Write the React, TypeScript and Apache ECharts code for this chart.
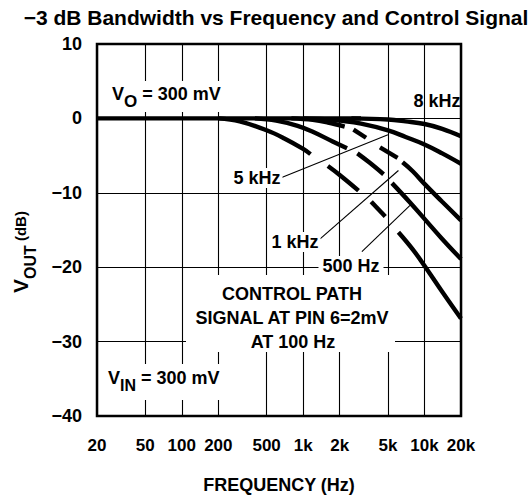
import React, { useEffect, useRef } from 'react';
import * as echarts from 'echarts';

const TITLE = '−3 dB Bandwidth vs Frequency and Control Signal';
const freqTicks = [20, 50, 100, 200, 500, 1000, 2000, 5000, 10000, 20000];
const freqTickLabels = ['20', '50', '100', '200', '500', '1k', '2k', '5k', '10k', '20k'];
const dbMin = -40;
const dbMax = 10;
const dbStep = 10;

// Common flat 0 dB part
const flatPart = [[20, 0], [1000, 0], [3000, 0]];
// Curves: each is a list of drawn segments (solid pieces, gaps give the dashed look)
const curve8kHz = [
  [[2500, 0], [5000, -0.15], [7000, -0.4], [10000, -0.75], [14000, -1.4], [20000, -2.4]],
];
const curve5kHz = [
  [[1000, 0], [1500, -0.1], [2000, -0.3], [3000, -0.7], [5000, -1.6], [7000, -2.5], [10000, -3.5], [14000, -4.7], [20000, -6.1]],
];
const curve1kHz = [
  [[800, 0], [1200, -0.2], [1600, -0.55], [2200, -1.1]],
  [[2600, -1.5], [3300, -2.6]],
  [[4300, -3.9], [6000, -5.3]],
  [[6600, -5.9], [8000, -7.1], [10000, -8.8], [14000, -11.2], [20000, -13.7]],
];
const curve500Hz = [
  [[400, 0], [600, -0.3], [900, -1.0], [1200, -1.8], [1750, -3.1], [2300, -4.0]],
  [[2800, -4.7], [3500, -5.9], [4600, -7.5]],
  [[5400, -8.7], [7600, -11.3], [10000, -13.5], [14000, -16.2], [20000, -18.9]],
];
const curveLowest = [
  [[200, 0], [300, -0.4], [500, -1.6], [700, -2.7], [1000, -4.1], [1150, -4.8]],
  [[1600, -6.4], [2000, -7.6], [2860, -9.7]],
  [[3640, -11.2], [4750, -13.2]],
  [[6100, -15.3], [8000, -17.6], [10000, -19.8], [14000, -23.3], [20000, -26.9]],
];

// Annotation arrows (from label to curve), in data coordinates
const arrow5kHz = [[650, -8.0], [5000, -2.2]];
const arrow1kHz = [[1380, -16.2], [6100, -7.0]];
const arrow500Hz = [[3050, -17.9], [7600, -11.7]];

const FONT = "'Liberation Sans Narrow', 'Arial Narrow', 'Liberation Sans', Arial, sans-serif";
const TITLE_FONT = "'Liberation Sans', Arial, Helvetica, sans-serif";

export default function App() {
  const ref = useRef<HTMLDivElement>(null);
  useEffect(() => {
    if (!ref.current) return;
    const chart = echarts.init(ref.current, undefined, { renderer: 'svg' });
    const allCurves = [[flatPart], curve8kHz, curve5kHz, curve1kHz, curve500Hz, curveLowest];
    const series: any[] = [];
    allCurves.forEach((curve, ci) => {
      curve.forEach((seg, si) => {
        series.push({
          type: 'line',
          name: `c${ci}_${si}`,
          data: seg,
          smooth: 0.4,
          showSymbol: false,
          symbol: 'none',
          silent: true,
          z: 3,
          lineStyle: { color: '#000', width: 4.4, cap: 'butt' },
        });
      });
    });
    const arrows = [arrow5kHz, arrow1kHz, arrow500Hz];
    series.push({
      type: 'line',
      name: 'arrows',
      data: [],
      silent: true,
      z: 4,
      markLine: {
        silent: true,
        symbol: ['none', 'arrow'],
        symbolSize: [0, 11],
        label: { show: false },
        lineStyle: { color: '#000', width: 1.1, type: 'solid' },
        emphasis: { disabled: true },
        data: arrows.map((a) => [{ coord: a[0] }, { coord: a[1] }]),
      },
    });

    const labelStyle = { fontFamily: FONT, fontWeight: 'bold', fill: '#000' };
    const option: any = {
      animation: false,
      backgroundColor: '#fff',
      title: {
        text: TITLE,
        left: 271,
        textAlign: 'center',
        top: 2,
        textStyle: { fontFamily: TITLE_FONT, fontWeight: 'bold', fontSize: 21, color: '#000' },
      },
      grid: {
        left: 97, right: 71, top: 44, bottom: 79,
        outerBoundsMode: 'none',
        containLabel: false,
        show: true, borderColor: '#000', borderWidth: 2.5, backgroundColor: 'transparent',
      },
      xAxis: {
        type: 'log',
        logBase: 10,
        min: 20,
        max: 20000,
        name: 'FREQUENCY (Hz)',
        nameLocation: 'middle',
        nameGap: 60,
        nameTextStyle: { fontFamily: FONT, fontWeight: 'bold', fontSize: 18, color: '#000', verticalAlign: 'top' },
        axisLine: { show: false },
        axisTick: { show: false, customValues: freqTicks },
        axisLabel: {
          customValues: freqTicks,
          margin: 21,
          fontFamily: FONT, fontWeight: 'bold', fontSize: 17, color: '#000',
          formatter: (v: number) => {
            let best = 0;
            freqTicks.forEach((t, i) => { if (Math.abs(Math.log(t / v)) < Math.abs(Math.log(freqTicks[best] / v))) best = i; });
            return freqTickLabels[best];
          },
        },
        splitLine: { show: true, lineStyle: { color: '#000', width: 1.1 } },
      },
      yAxis: {
        type: 'value',
        min: dbMin,
        max: dbMax,
        interval: dbStep,
        axisLine: { show: false },
        axisTick: { show: false },
        axisLabel: {
          margin: 15,
          fontFamily: FONT, fontWeight: 'bold', fontSize: 18, color: '#000',
          formatter: (v: number) => (v < 0 ? '−' + Math.abs(v) : String(v)),
        },
        splitLine: { show: true, lineStyle: { color: '#000', width: 1.1 } },
      },
      graphic: [
        { type: 'rect', z: 1, silent: true, shape: { x: 99, y: 81, width: 136, height: 31 }, style: { fill: '#fff' } },
        { type: 'rect', z: 1, silent: true, shape: { x: 99, y: 364, width: 136, height: 36 }, style: { fill: '#fff' } },
        { type: 'rect', z: 1, silent: true, shape: { x: 186, y: 275, width: 209, height: 77 }, style: { fill: '#fff' } },
        {
          type: 'text', z: 10, silent: true, x: 24, y: 252, rotation: Math.PI / 2,
          style: {
            text: '{v|V}{s|OUT}{d| (dB)}', align: 'center', verticalAlign: 'middle',
            rich: {
              v: { ...labelStyle, fontSize: 21, verticalAlign: 'top', lineHeight: 28 },
              s: { ...labelStyle, fontSize: 16, verticalAlign: 'bottom', lineHeight: 28 },
              d: { ...labelStyle, fontSize: 15, verticalAlign: 'top', lineHeight: 28, padding: [3, 0, 0, 0] },
            },
          },
        },
        {
          type: 'text', z: 10, silent: true, x: 112, y: 97,
          style: {
            text: '{v|V}{s|O}{v| = 300 mV}', verticalAlign: 'middle', align: 'left',
            rich: {
              v: { ...labelStyle, fontSize: 18, verticalAlign: 'top', lineHeight: 25 },
              s: { ...labelStyle, fontSize: 17, verticalAlign: 'bottom', lineHeight: 25 },
            },
          },
        },
        {
          type: 'text', z: 10, silent: true, x: 108, y: 381,
          style: {
            text: '{v|V}{s|IN}{v| = 300 mV}', verticalAlign: 'middle', align: 'left',
            rich: {
              v: { ...labelStyle, fontSize: 18, verticalAlign: 'top', lineHeight: 25 },
              s: { ...labelStyle, fontSize: 16, verticalAlign: 'bottom', lineHeight: 25 },
            },
          },
        },
        { type: 'text', z: 10, silent: true, x: 437, y: 101, style: { ...labelStyle, text: '8 kHz', fontSize: 18, align: 'center', verticalAlign: 'middle' } },
        { type: 'text', z: 10, silent: true, x: 257, y: 178, style: { ...labelStyle, text: '5 kHz', fontSize: 18, align: 'center', verticalAlign: 'middle', backgroundColor: '#fff', padding: [1, 2] } },
        { type: 'text', z: 10, silent: true, x: 295, y: 242, style: { ...labelStyle, text: '1 kHz', fontSize: 18, align: 'center', verticalAlign: 'middle', backgroundColor: '#fff', padding: [1, 2] } },
        { type: 'text', z: 10, silent: true, x: 351, y: 266, style: { ...labelStyle, text: '500 Hz', fontSize: 18, align: 'center', verticalAlign: 'middle', backgroundColor: '#fff', padding: [1, 4] } },
        { type: 'text', z: 10, silent: true, x: 292, y: 294, style: { ...labelStyle, text: 'CONTROL PATH', fontSize: 18, align: 'center', verticalAlign: 'middle' } },
        { type: 'text', z: 10, silent: true, x: 292, y: 318, style: { ...labelStyle, text: 'SIGNAL AT PIN 6=2mV', fontSize: 18, align: 'center', verticalAlign: 'middle' } },
        { type: 'text', z: 10, silent: true, x: 293, y: 342, style: { ...labelStyle, text: 'AT 100 Hz', fontSize: 18, align: 'center', verticalAlign: 'middle' } },
      ],
      series,
    };
    chart.setOption(option);
    return () => chart.dispose();
  }, []);
  return <div ref={ref} style={{ position: 'fixed', left: 0, top: 0, width: 532, height: 495, background: '#fff' }} />;
}
